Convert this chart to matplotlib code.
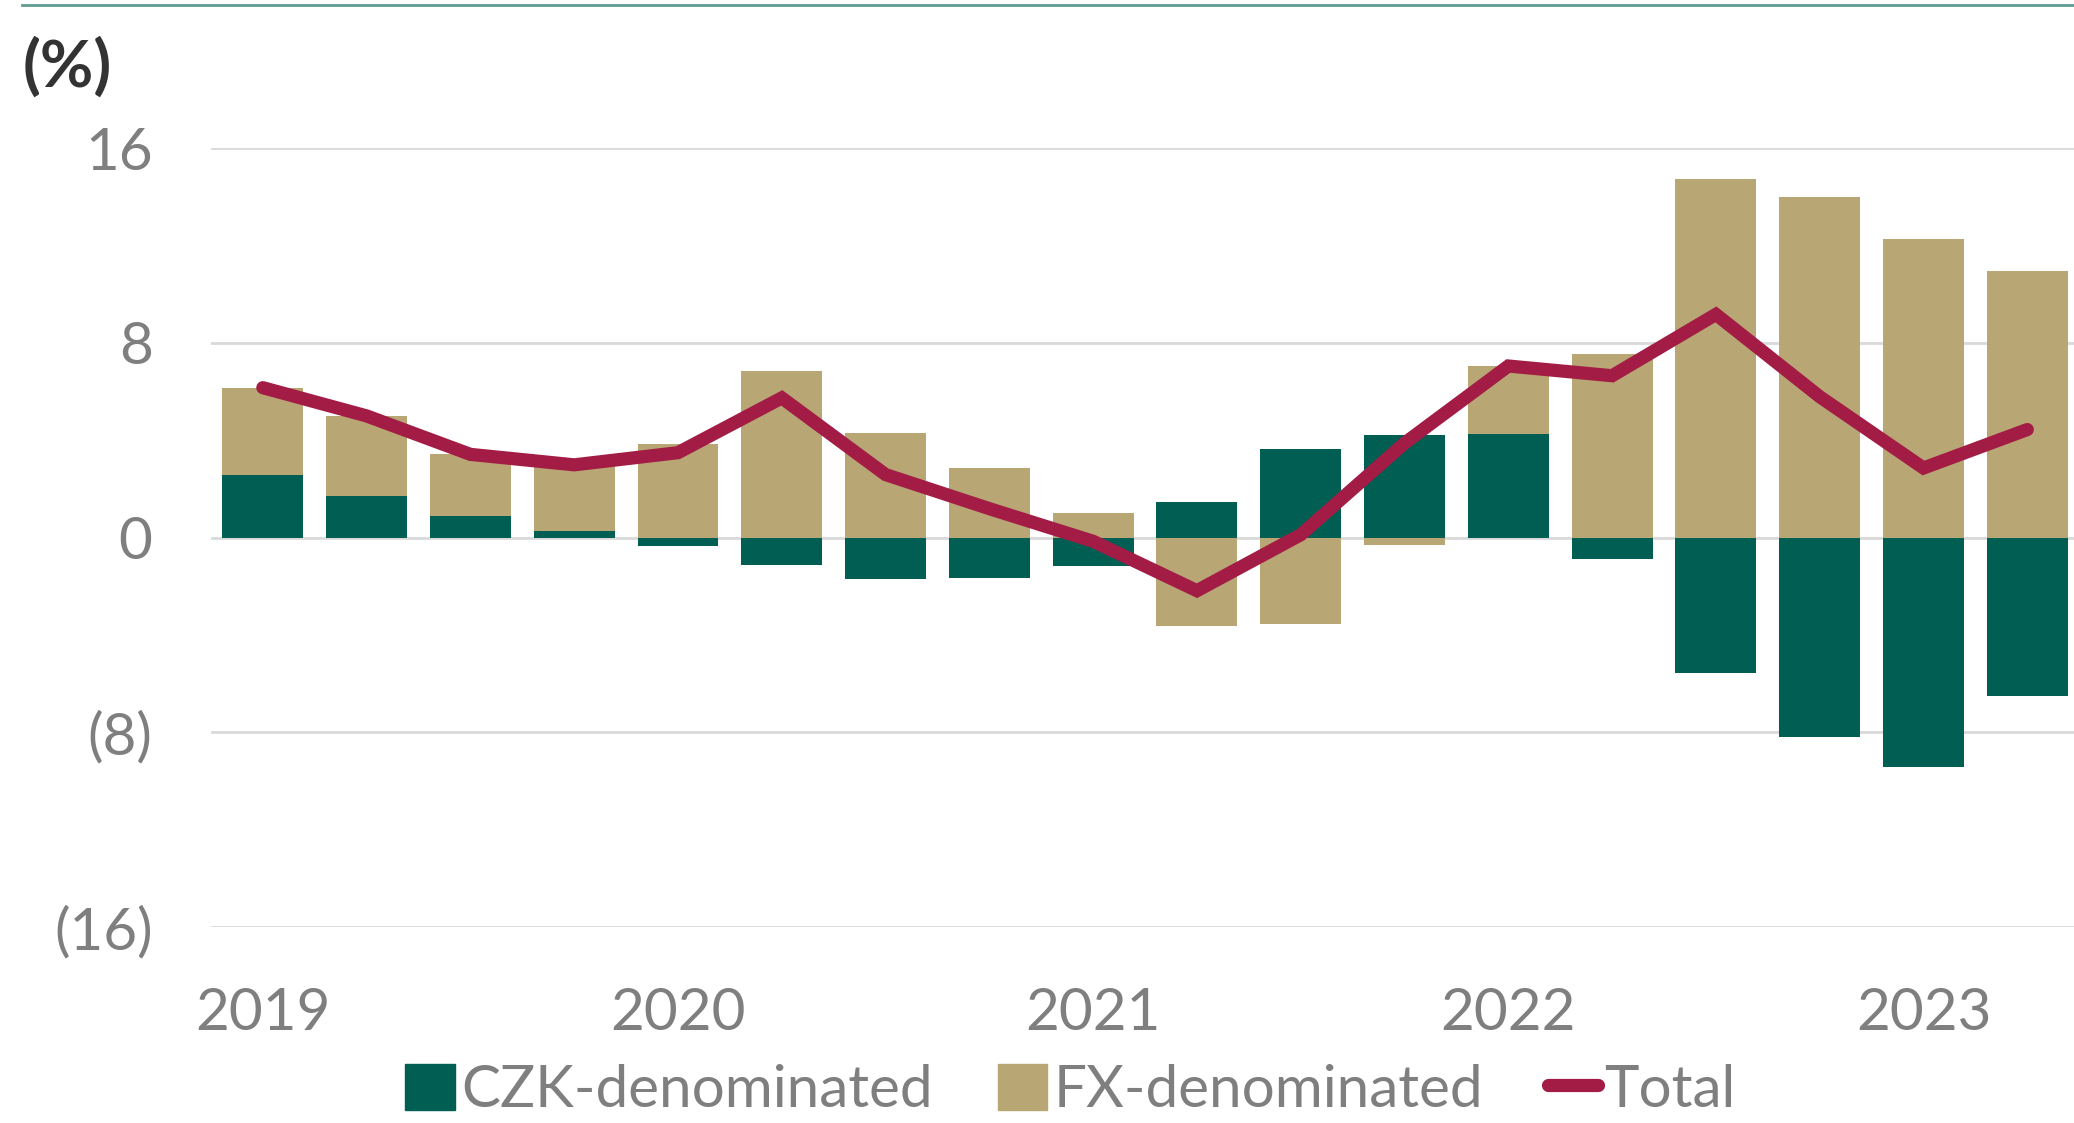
import matplotlib
matplotlib.use("Agg")
import matplotlib.pyplot as plt
from matplotlib.lines import Line2D
from matplotlib.patches import Patch
import numpy as np

plt.rcParams['font.family'] = ['Lato', 'DejaVu Sans']

years = ["2019", "2020", "2021", "2022", "2023"]
czk = [2.59, 1.70, 0.88, 0.26, -0.36, -1.12, -1.71, -1.67, -1.17, 1.46, 3.66, 4.20, 4.26, -0.89, -5.57, -8.20, -9.41, -6.52]
fx = [3.57, 3.30, 2.54, 2.73, 3.85, 6.86, 4.30, 2.86, 1.02, -3.64, -3.54, -0.32, 2.79, 7.54, 14.74, 13.99, 12.27, 10.96]
total = [6.16, 5.00, 3.42, 2.99, 3.49, 5.74, 2.59, 1.19, -0.15, -2.18, 0.12, 3.88, 7.05, 6.65, 9.17, 5.79, 2.86, 4.44]
yticks = [16, 8, 0, -8, -16]
ytick_labels = ["16", "8", "0", "(8)", "(16)"]

C_CZK = "#005f52"
C_FX = "#b8a774"
C_TOT = "#a31c45"
GRAY = "#7f7f7f"

fig = plt.figure(figsize=(20.74, 11.23), dpi=100)
ax = fig.add_axes([0.1017, 0.1744, 1 - 0.1017, 0.8681 - 0.1744])

x = np.arange(len(czk))
czk_a = np.array(czk)
fx_a = np.array(fx)
# stacked: positive parts stack from zero upward, negative downward
pos_base = np.zeros(len(x))
neg_base = np.zeros(len(x))
for vals, col in ((czk_a, C_CZK), (fx_a, C_FX)):
    base = np.where(vals >= 0, pos_base, neg_base)
    ax.bar(x, vals, bottom=base, width=0.78, color=col, zorder=2)
    pos_base = pos_base + np.where(vals >= 0, vals, 0)
    neg_base = neg_base + np.where(vals < 0, vals, 0)

ax.plot(x, total, color=C_TOT, lw=9.5, solid_capstyle='round', solid_joinstyle='miter', zorder=3)

ax.set_xlim(-0.5, 17.45)
ax.set_ylim(-16, 16)
ax.set_yticks(yticks)
ax.set_yticklabels(ytick_labels)
ax.set_xticks(np.arange(0, len(x), 4))
ax.set_xticklabels(years)
ax.yaxis.grid(True, color="#d9d9d9", lw=2, zorder=0)
ax.set_axisbelow(True)
for s in ax.spines.values():
    s.set_visible(False)
ax.tick_params(axis='both', length=0, labelsize=42, labelcolor=GRAY)
ax.tick_params(axis='y', pad=42)
ax.tick_params(axis='x', pad=43)

fig.text(0.011, 0.94, "(%)", fontsize=47, fontweight='bold', color="#333333", va='center', ha='left')

# top rule
fig.add_artist(Line2D([0.0106, 1.0], [0.9955, 0.9955], color="#5f9b91", lw=2))

handles = [Patch(color=C_CZK), Patch(color=C_FX), Line2D([0], [0], color=C_TOT, lw=9.5, solid_capstyle='round')]
labels = ["CZK-denominated", "FX-denominated", "Total"]
fig.legend(handles, labels, loc='center', bbox_to_anchor=(0.516, 0.029), ncol=3, frameon=False,
           fontsize=42, labelcolor=GRAY, handlelength=0.85, handleheight=0.85, handletextpad=0.1,
           columnspacing=1.12, borderaxespad=0)

fig.savefig("out.png", dpi=100)
